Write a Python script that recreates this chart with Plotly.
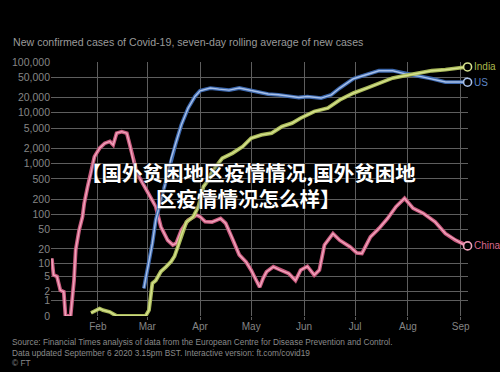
import math
import plotly.graph_objects as go

# ---------------- data ----------------
china_dates = ["2020-01-05", "2020-01-06", "2020-01-08", "2020-01-10", "2020-01-12", "2020-01-13",
               "2020-01-16", "2020-01-18", "2020-01-19", "2020-01-21", "2020-01-23", "2020-01-24",
               "2020-01-26", "2020-01-28", "2020-01-30", "2020-02-02", "2020-02-05", "2020-02-08",
               "2020-02-10", "2020-02-12", "2020-02-15", "2020-02-18", "2020-02-20", "2020-02-22",
               "2020-02-24", "2020-03-06", "2020-03-09", "2020-03-13", "2020-03-16", "2020-03-18",
               "2020-03-21", "2020-03-25", "2020-03-30", "2020-04-01", "2020-04-04", "2020-04-08",
               "2020-04-13", "2020-04-16", "2020-04-20", "2020-04-24", "2020-04-28", "2020-05-01",
               "2020-05-04", "2020-05-06", "2020-05-08", "2020-05-10", "2020-05-14", "2020-05-18",
               "2020-05-23", "2020-05-27", "2020-05-30", "2020-06-03", "2020-06-07", "2020-06-10",
               "2020-06-13", "2020-06-18", "2020-06-22", "2020-06-28", "2020-07-02", "2020-07-05",
               "2020-07-10", "2020-07-15", "2020-07-20", "2020-07-25", "2020-07-30", "2020-08-04",
               "2020-08-10", "2020-08-17", "2020-08-23", "2020-08-29", "2020-09-03", "2020-09-05"]
china_values = [12.6, 5.4, 5, 2.2, 2, 0,
                0, 4, 19, 48, 89, 164,
                350, 645, 1370, 2010, 2510, 2730,
                2330, 3970, 4260, 3970, 2160, 1015,
                645, 141, 56, 30, 24, 26,
                48, 76, 96, 89, 71, 70,
                82, 66, 33, 15, 10.6, 7,
                4, 2.7, 4.5, 6.4, 8.3, 7,
                5.9, 4, 7, 8.5, 5.4, 7,
                24, 41, 30, 22, 16.5, 16,
                35, 52, 82, 141, 206, 131,
                104, 70, 41, 30, 24, 23]

us_dates = ["2020-02-28", "2020-03-02", "2020-03-04", "2020-03-06", "2020-03-09", "2020-03-12",
            "2020-03-15", "2020-03-18", "2020-03-21", "2020-03-25", "2020-03-29", "2020-04-01",
            "2020-04-07", "2020-04-12", "2020-04-18", "2020-04-24", "2020-04-30", "2020-05-05",
            "2020-05-11", "2020-05-17", "2020-05-23", "2020-05-29", "2020-06-03", "2020-06-05",
            "2020-06-11", "2020-06-17", "2020-06-22", "2020-06-30", "2020-07-08", "2020-07-15",
            "2020-07-23", "2020-07-31", "2020-08-08", "2020-08-15", "2020-08-23", "2020-08-31",
            "2020-09-05"]
us_values = [2.5, 10.8, 26, 77, 191, 450,
             1275, 2710, 5790, 12370, 20950, 27150,
             30700, 29300, 28000, 30700, 28000, 26300,
             23400, 22600, 21600, 20000, 20900, 20400,
             19500, 22600, 30700, 46900, 56200, 67300,
             67300, 57900, 52000, 46900, 40300, 40300,
             40000]

india_dates = ["2020-01-28", "2020-02-02", "2020-02-04", "2020-02-08", "2020-02-12", "2020-02-29",
               "2020-03-02", "2020-03-04", "2020-03-06", "2020-03-09", "2020-03-12", "2020-03-15",
               "2020-03-17", "2020-03-19", "2020-03-21", "2020-03-24", "2020-03-28", "2020-03-31",
               "2020-04-03", "2020-04-06", "2020-04-08", "2020-04-14", "2020-04-20", "2020-04-26",
               "2020-05-01", "2020-05-07", "2020-05-13", "2020-05-19", "2020-05-25", "2020-05-30",
               "2020-06-07", "2020-06-15", "2020-06-22", "2020-06-30", "2020-07-08", "2020-07-15",
               "2020-07-23", "2020-07-31", "2020-08-08", "2020-08-15", "2020-08-23", "2020-08-31",
               "2020-09-05"]
india_values = [0.15, 0.4, 0.3, 0.2, 0, 0,
                0.3, 3.4, 4, 6.5, 8.3, 10.8,
                14, 22, 38, 70, 89, 141,
                350, 480, 693, 1275, 1600, 2160,
                3160, 3680, 3970, 5360, 6250, 7850,
                10600, 12370, 18000, 24400, 30700, 38500,
                48300, 54400, 60700, 67300, 70500, 76200,
                80000]

y_tick_values = [0, 1, 2, 5, 10, 20, 50, 100, 200, 500, 1000, 2000, 5000,
                 10000, 20000, 50000, 100000]
month_ticks = ["2020-02-01", "2020-03-01", "2020-04-01", "2020-05-01",
               "2020-06-01", "2020-07-01", "2020-08-01", "2020-09-01"]
month_labels = ["Feb", "Mar", "Apr", "May", "Jun", "Jul", "Aug", "Sep"]

title_text = "New confirmed cases of Covid-19, seven-day rolling average of new cases"
footer_lines = [
    "Source: Financial Times analysis of data from the European Centre for Disease Prevention and Control.",
    "Data updated September 6 2020 3.15pm BST. Interactive version: ft.com/covid19",
    "© FT",
]
overlay_lines = ["【国外贫困地区疫情情况,国外贫困地", "区疫情情况怎么样】"]


def tr(v):
    return math.log10(v + 1)


# ---------------- styling ----------------
BG = "#000000"
GRID = "#5e5e5e"
TXT = "#858585"
FONT = "Liberation Sans, Arial, sans-serif"

series = [
    # name, dates, values, outer, inner, label colour
    ("China", china_dates, china_values, "#c85c7f", "#f2a4bd", "#d9698d"),
    ("US", us_dates, us_values, "#3d68ad", "#a8c0e8", "#5c84c4"),
    ("India", india_dates, india_values, "#a9b95a", "#d6e28e", "#a8b94e"),
]

fig = go.Figure()
for name, d, v, outer, inner, lab in series:
    yv = [tr(x) for x in v]
    fig.add_trace(go.Scatter(x=d, y=yv, mode="lines", line=dict(color=outer, width=3.8),
                             hoverinfo="skip", showlegend=False, cliponaxis=False))
    fig.add_trace(go.Scatter(x=d, y=yv, mode="lines", line=dict(color=inner, width=1.4),
                             hoverinfo="skip", showlegend=False, cliponaxis=False))
    fig.add_trace(go.Scatter(x=[d[-1]], y=[yv[-1]], mode="markers",
                             marker=dict(symbol="circle", size=8, color=BG,
                                         line=dict(color=inner, width=1.6)),
                             hoverinfo="skip", showlegend=False, cliponaxis=False))
    fig.add_annotation(x=d[-1], y=yv[-1], text=name, showarrow=False, xanchor="left",
                       yanchor="middle", xshift=4,
                       font=dict(family=FONT, size=10, color=lab))

fig.update_xaxes(type="date", range=["2020-01-04 12:00", "2020-09-05 06:00"],
                 tickvals=month_ticks, ticktext=month_labels,
                 showgrid=True, gridcolor=GRID, gridwidth=1,
                 ticks="outside", ticklen=3, tickcolor=GRID,
                 ticklabelstandoff=-2,
                 tickfont=dict(family=FONT, size=10, color=TXT),
                 showline=False, zeroline=False)
fig.update_yaxes(range=[0, 5.0001],
                 tickvals=[tr(t) for t in y_tick_values],
                 ticktext=[f"{t:,}" for t in y_tick_values],
                 showgrid=True, gridcolor=GRID, gridwidth=1,
                 tickfont=dict(family=FONT, size=10.5, color=TXT),
                 ticks="", showline=False, zeroline=False)

L, R, T, B = 43, 32, 62, 56
W, H = 500, 372
pw, ph = W - L - R, H - T - B


def px(xp):
    return (xp - L) / pw


def py(yp):
    return (H - B - yp) / ph


fig.add_annotation(xref="paper", yref="paper", x=px(2), y=py(42), text=title_text,
                   showarrow=False, xanchor="left", yanchor="middle",
                   font=dict(family=FONT, size=10.6, color="#9a9a9a"))
for i, (line, yy) in enumerate(zip(footer_lines, [341.7, 352.7, 363.3])):
    fig.add_annotation(xref="paper", yref="paper", x=px(1), y=py(yy), text=line,
                       showarrow=False, xanchor="left", yanchor="middle",
                       font=dict(family=FONT, size=8.3, color="#8a8a8a"))
for line, yy in zip(overlay_lines, [171.7, 198]):
    fig.add_annotation(xref="paper", yref="paper", x=px(244), y=py(yy), text=f"<b>{line}</b>",
                       showarrow=False, xanchor="center", yanchor="middle",
                       font=dict(family="Noto Sans CJK SC", size=20.5, color="#ffffff",
                                 shadow="0px 0px 3px #000000"))

fig.update_layout(width=W, height=H, margin=dict(l=L, r=R, t=T, b=B),
                  paper_bgcolor=BG, plot_bgcolor=BG, showlegend=False)

fig.write_html("out.html", config={"displayModeBar": False},
               post_script="document.body.style.margin='0';document.body.style.background='#000';")
